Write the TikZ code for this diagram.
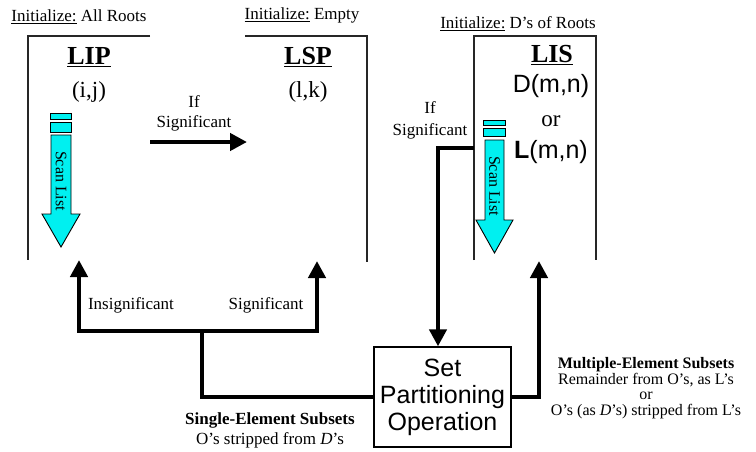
\documentclass[tikz,border=0pt]{standalone}
\usepackage{fontspec}
\setmainfont{Liberation Serif}
\newfontfamily\arialf{Liberation Sans}
\usetikzlibrary{arrows.meta}
\definecolor{scancyan}{RGB}{0,240,240}
\begin{document}
\begin{tikzpicture}[x=1pt,y=-1pt,
  small/.style={font=\fontsize{17}{19}\selectfont, inner sep=0pt, align=center},
  title/.style={font=\fontsize{26}{30}\selectfont\bfseries, inner sep=0pt},
  sub/.style={font=\fontsize{23}{26}\selectfont, inner sep=0pt},
  frame/.style={line width=1.6pt, draw=black!85},
  bigarrow/.style={line width=4.5pt, -{Triangle[length=17pt,width=17pt]}},
  bigline/.style={line width=4.5pt},
  scanbar/.style={fill=scancyan, draw=black, line width=0.9pt},
  scantext/.style={font=\fontsize{16}{18}\selectfont, inner sep=0pt, rotate=-90}
]
\useasboundingbox (0,0) rectangle (756,451);

% ---- LIP ----
\node[small] (initA) at (79,17) {\underline{Initialize:} All Roots};
\draw[frame] (150,36) -- (28,36) -- (28,260);
\node[title] (lip) at (89,57) {\underline{LIP}};
\node[sub] (lipij) at (89,92) {(i,j)};
\draw[scanbar] (50,113) rectangle (71,119);
\draw[scanbar] (50,122) rectangle (71,132);
\draw[scanbar] (51,135) -- (71,135) -- (71,214) -- (80,214) -- (61,247) -- (42,214) -- (51,214) -- cycle;
\node[scantext] (scanA) at (61,181) {Scan List};

% ---- LSP ----
\node[small] (initB) at (302,15) {\underline{Initialize:} Empty};
\draw[frame] (245,36) -- (367,36) -- (367,262);
\node[title] (lsp) at (308,57) {\underline{LSP}};
\node[sub] (lsplk) at (308,92) {(l,k)};

% ---- LIS ----
\node[small] (initC) at (518,24) {\underline{Initialize:} D's of Roots};
\draw[frame] (474,260) -- (474,36) -- (596,36) -- (596,260);
\node[title] (lis) at (552,55) {\underline{LIS}};
\node[font=\arialf\fontsize{25}{28}\selectfont, inner sep=0pt] (lisD) at (551,86) {D(m,n)};
\node[sub] (lisor) at (551,121) {or};
\node[font=\arialf\fontsize{25}{28}\selectfont, inner sep=0pt] (lisL) at (551,152) {\textbf{L}(m,n)};
\draw[scanbar] (483,120) rectangle (505,125);
\draw[scanbar] (483,128) rectangle (505,136);
\draw[scanbar] (485,140) -- (504,140) -- (504,220) -- (513,220) -- (494.5,253) -- (476,220) -- (485,220) -- cycle;
\node[scantext] (scanB) at (494.5,186) {Scan List};

% ---- labels ----
\node[small] (ifA) at (194,113) {If\\[1pt]Significant};
\node[small] (ifB) at (430,120) {If\\[3pt]Significant};
\node[small] (insig) at (131,305) {Insignificant};
\node[small] (sigC) at (266,305) {Significant};
\node[small, font=\fontsize{17}{20}\selectfont] (single) at (270,430)
  {\textbf{Single-Element Subsets}\\O's stripped from \textit{D}'s};
\node[small, font=\fontsize{16}{15.7}\selectfont] (multi) at (646,388)
  {\textbf{Multiple-Element Subsets}\\Remainder from O's, as L's\\or\\O's (as \textit{D}'s) stripped from L's};

% ---- Set partitioning box ----
\node[draw, line width=1.3pt, minimum width=137pt, minimum height=100pt, inner sep=0pt,
      align=center, font=\arialf\fontsize{25}{27}\selectfont] (spo) at (442.5,397)
      {Set\\Partitioning\\Operation};

% ---- connectors ----
\coordinate (lipOut) at (150,142);
\coordinate (lspIn) at (247,142);
\draw[bigarrow] (lipOut) -- (lspIn);

\coordinate (lisOut) at (474,148);
\coordinate (spoIn) at ([xshift=-4.5pt]spo.north);
\draw[bigarrow] (lisOut) -| (spoIn);

\coordinate (lisIn) at (539,261);
\draw[bigarrow] (spo.east) -| (lisIn);

\coordinate (junc) at (202,331);
\coordinate (lipIn) at (79,260);
\coordinate (lspBack) at (317,261);
\draw[bigline] (spo.west) -| (junc);
\draw[bigarrow] (junc) -| (lipIn);
\draw[bigarrow] (junc) -| (lspBack);
\end{tikzpicture}
\end{document}
